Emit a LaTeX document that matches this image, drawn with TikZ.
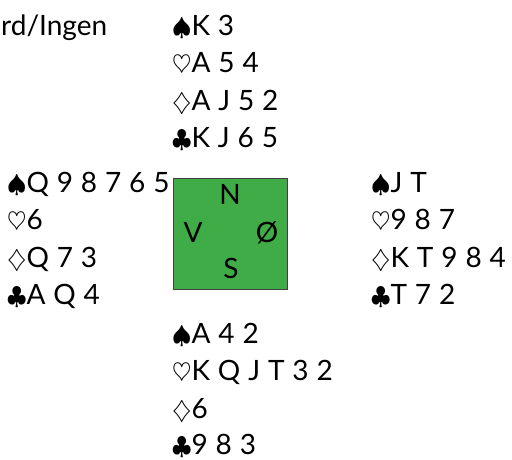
\documentclass[tikz,border=0pt]{standalone}
\usepackage{fontspec}
\setmainfont{Lato}[WordSpace=1.1]
\newcommand{\mySp}{$\spadesuit$}
\newcommand{\myHe}{$\heartsuit$}
\newcommand{\myDi}{$\diamondsuit$}
\newcommand{\myCl}{$\clubsuit$}
\definecolor{boxgreen}{RGB}{64,172,72}
\begin{document}
\begin{tikzpicture}[x=1pt,y=-1pt,
  hand/.style={anchor=base west, inner sep=0pt, font=\fontsize{28}{32}\selectfont},
  dir/.style={anchor=base, inner sep=0pt, font=\fontsize{28}{32}\selectfont}]
\useasboundingbox (0,0) rectangle (512,459);
\node[hand] (info) at (1,35) {rd/Ingen};
% North
\node[hand] (n1) at (172,35) {\mySp K 3};
\node[hand] (n2) at (172,72.5) {\myHe A 5 4};
\node[hand] (n3) at (172,110) {\myDi A J 5 2};
\node[hand] (n4) at (172,147.5) {\myCl K J 6 5};
% West
\node[hand] (w1) at (7,192) {\mySp Q 9 8 7 6 5};
\node[hand] (w2) at (7,229.5) {\myHe 6};
\node[hand] (w3) at (7,267) {\myDi Q 7 3};
\node[hand] (w4) at (7,304.5) {\myCl A Q 4};
% East
\node[hand] (e1) at (371,192) {\mySp J T};
\node[hand] (e2) at (371,229.5) {\myHe 9 8 7};
\node[hand] (e3) at (371,267) {\myDi K T 9 8 4};
\node[hand] (e4) at (371,304.5) {\myCl T 7 2};
% South
\node[hand] (s1) at (172,343) {\mySp A 4 2};
\node[hand] (s2) at (172,380.5) {\myHe K Q J T 3 2};
\node[hand] (s3) at (172,418) {\myDi 6};
\node[hand] (s4) at (172,454) {\myCl 9 8 3};
% Compass
\path[fill=boxgreen, draw=black!75, line width=0.8pt] (173,178) rectangle (287,289);
\node[dir] (cn) at (230,204) {N};
\node[dir] (cv) at (193,242) {V};
\node[dir] (ce) at (267,242) {Ø};
\node[dir] (cs) at (231,278) {S};
\end{tikzpicture}
\end{document}
